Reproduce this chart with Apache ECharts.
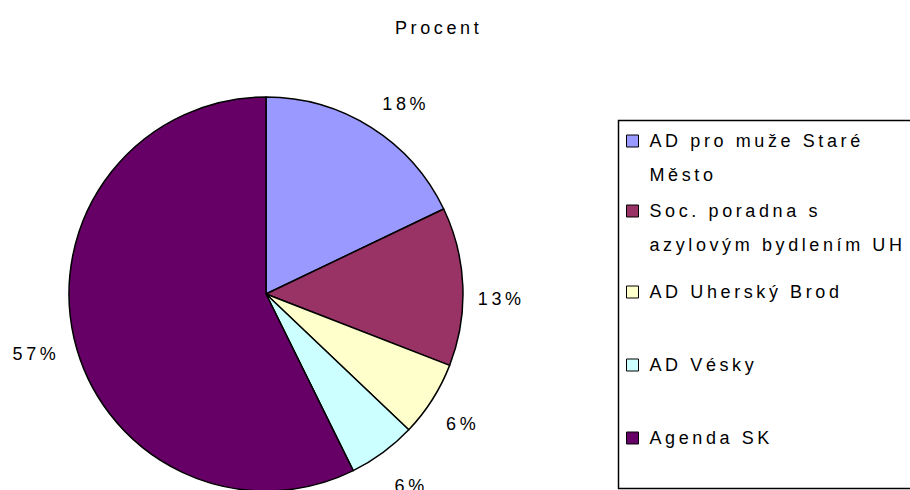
<!DOCTYPE html>
<html lang="cs">
<head>
    <meta charset="UTF-8">
    <title>Procent</title>
    <script src="https://cdn.jsdelivr.net/npm/echarts@6/dist/echarts.min.js"></script>
    <style>
        html, body { margin: 0; padding: 0; background: #fff; }
        /* wide letter spacing like the old Excel rendering (works with the svg renderer) */
        #chart { width: 910px; height: 490px; letter-spacing: 3.6px; }
    </style>
</head>
<body>
<div id="chart"></div>
<script type="text/javascript">
    // data (percent of total)
    var categories = ['AD pro muže Staré Město', 'Soc. poradna s azylovým bydlením UH', 'AD Uherský Brod', 'AD Vésky', 'Agenda SK'];
    // blank first line keeps the icon level with the first text line
    var legendLabels = [' \nAD pro muže Staré\nMěsto', ' \nSoc. poradna s\nazylovým bydlením UH', 'AD Uherský Brod', 'AD Vésky', 'Agenda SK'];
    var values = [17.9, 13.0, 6.2, 5.6, 57.3];
    var colors = ['#9999FF', '#993366', '#FFFFCC', '#CCFFFF', '#660066'];

    var font = 'Liberation Sans, Arial, sans-serif';
    var cy = 294;
    var chart = echarts.init(document.getElementById('chart'), null, {renderer: 'svg'});

    var pieData = categories.map(function (name, i) {
        return {name: name, value: values[i], itemStyle: {color: colors[i]}};
    });

    // one legend per entry so each row sits where it does in the picture
    var legendTops = [90, 160, 282, 355, 428];
    var legends = categories.map(function (name, i) {
        var twoLines = legendLabels[i].indexOf('\n') >= 0;
        return {
            data: [name],
            orient: 'vertical',
            left: 626,
            top: legendTops[i],
            padding: 0,
            itemWidth: 12,
            itemHeight: 12,
            icon: 'rect',
            itemStyle: {borderColor: '#000', borderWidth: 1},
            formatter: function () { return legendLabels[i]; },
            textStyle: {
                fontFamily: font,
                fontSize: 18,
                color: '#000',
                lineHeight: twoLines ? 34 : 20,
                padding: [0, 0, 0, 6]
            },
            selectedMode: false
        };
    });

    chart.setOption({
        backgroundColor: '#fff',
        animation: false,
        title: {
            text: 'Procent',
            left: 395,
            top: 19,
            padding: 0,
            textStyle: {fontFamily: font, fontSize: 18, fontWeight: 'normal', color: '#000'}
        },
        legend: legends,
        graphic: [{
            type: 'rect',
            left: 616,
            top: 118,
            shape: {width: 310, height: 368},
            style: {fill: 'none', stroke: '#000', lineWidth: 1.5},
            silent: true
        }],
        series: [{
            type: 'pie',
            center: [266, cy],
            radius: 197,
            startAngle: 90,
            clockwise: true,
            data: pieData,
            itemStyle: {borderColor: '#000', borderWidth: 1.5},
            label: {
                show: true,
                position: 'outside',
                fontFamily: font,
                fontSize: 18,
                lineHeight: 26,
                color: '#000',
                formatter: function (p) { return Math.round(p.percent) + '%'; }
            },
            labelLine: {show: false, length: 8, length2: 2},
            // labels above the centre hang from their point, the rest sit below it
            labelLayout: function (p) {
                var rel = p.labelRect.y + p.labelRect.height / 2 - cy;
                if (rel < -50) {
                    return {verticalAlign: 'bottom', dy: -4};
                }
                return {verticalAlign: 'top', dy: Math.max(0, rel - 50) * 0.12};
            },
            emphasis: {disabled: true}
        }]
    });
</script>
</body>
</html>
